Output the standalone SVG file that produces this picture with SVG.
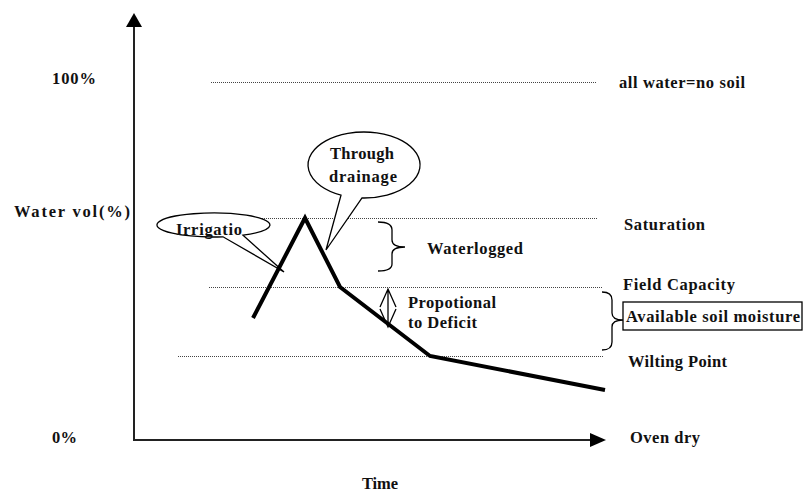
<svg xmlns="http://www.w3.org/2000/svg" width="803" height="497" viewBox="0 0 803 497">
<style>
text{font-family:"Liberation Serif","Times New Roman",serif;font-weight:bold;font-size:16.5px;fill:#111}
.dot{stroke:#444;stroke-width:1;stroke-dasharray:1 1;fill:none}
.axis{stroke:#222;stroke-width:2;fill:none}
.thin{stroke:#000;stroke-width:1.3;fill:none}
.callout{stroke:#000;stroke-width:1.3;fill:#fff}
</style>
<rect width="803" height="497" fill="#fff"/>
<g id="levels">
<line class="dot" x1="211" y1="82.5" x2="597" y2="82.5"/>
<line class="dot" x1="260" y1="218.5" x2="597" y2="218.5"/>
<line class="dot" x1="209" y1="287.5" x2="603" y2="287.5"/>
<line class="dot" x1="178" y1="356.5" x2="603" y2="356.5"/>
</g>
<g id="connectors">
<line class="axis" x1="134" y1="441" x2="134" y2="25"/>
<polygon points="134,13 126,27 142,27" fill="#000"/>
<line class="axis" x1="133" y1="440" x2="592" y2="440"/>
<polygon points="606,440 590,433 590,447" fill="#000"/>
<path d="M380 307 L388 289 L396 307 M388 289 L388 327 M380 309 L388 327 L396 309" class="thin"/>
<path id="brace-waterlogged" class="thin" d="M378 222 Q392 222 392 230 L392 240 Q392 247 405 247 Q392 247 392 254 L392 264 Q392 271 378 271"/>
<path id="brace-available" class="thin" d="M602 292 Q612 292 612 300 L612 313 Q612 320 623 320 Q612 320 612 327 L612 342 Q612 350 602 350"/>
</g>
<g id="callout-irrigation">
<path class="callout" d="M223 236.8 A56.5 12 0 1 1 243 235.2 L284 272 Z"/>
<text x="176" y="235" textLength="66" lengthAdjust="spacing">Irrigatio</text>
</g>
<g id="callout-drainage">
<path class="callout" d="M341 195.1 A56 33 0 1 1 362 198 L326 250 Z"/>
<text x="330" y="159" textLength="64" lengthAdjust="spacing">Through</text>
<text x="329" y="182" textLength="68" lengthAdjust="spacing">drainage</text>
</g>
<g id="curve">
<polyline points="253,318 305,218 340,287 430,356 605,390" fill="none" stroke="#000" stroke-width="4" stroke-linejoin="miter"/>
</g>
<g id="labels">
<text x="52" y="84" textLength="44" lengthAdjust="spacing">100%</text>
<text x="52" y="443" textLength="25" lengthAdjust="spacing">0%</text>
<text x="14" y="217" textLength="116" lengthAdjust="spacing">Water vol(%)</text>
<text x="362" y="489" textLength="36" lengthAdjust="spacing">Time</text>
<text x="619" y="88" textLength="126" lengthAdjust="spacing">all water=no soil</text>
<text x="624" y="230" textLength="81" lengthAdjust="spacing">Saturation</text>
<text x="623" y="290" textLength="112" lengthAdjust="spacing">Field Capacity</text>
<text x="628" y="367" textLength="99" lengthAdjust="spacing">Wilting Point</text>
<text x="630" y="443" textLength="70" lengthAdjust="spacing">Oven dry</text>
<text x="427" y="254" textLength="96" lengthAdjust="spacing">Waterlogged</text>
<text x="408" y="308" textLength="88" lengthAdjust="spacing">Propotional</text>
<text x="408" y="328" textLength="69" lengthAdjust="spacing">to Deficit</text>
</g>
<g id="available-box">
<rect x="623" y="302" width="179" height="28" fill="none" stroke="#000" stroke-width="1.3"/>
<text x="626" y="322" textLength="174" lengthAdjust="spacing">Available soil moisture</text>
</g>
</svg>
